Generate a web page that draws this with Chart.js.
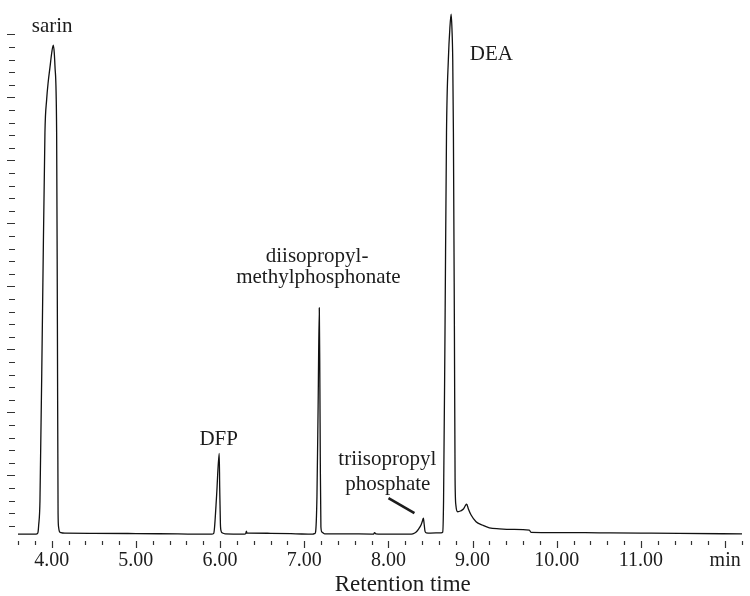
<!DOCTYPE html>
<html>
<head>
<meta charset="utf-8">
<script src="https://cdn.jsdelivr.net/npm/chart.js@4.4.1/dist/chart.umd.min.js"></script>
<style>
  html, body { margin: 0; padding: 0; background: #fff; }
</style>
</head>
<body>
<canvas id="out" width="750" height="596"></canvas>
<script>
// trace: retention time (min) / detector response
const retentionTime = [
	3.60, 3.70, 3.80, 3.825, 3.838, 3.845, 3.861, 3.893, 3.920, 3.940, 3.960, 3.980, 4.000, 4.019,
	4.030, 4.039, 4.059, 4.068, 4.076, 4.082, 4.092, 4.110, 4.160, 4.50, 5.00, 5.50,
	5.90, 5.925, 5.935, 5.960, 5.990, 5.996, 6.004, 6.012, 6.030, 6.060,
	6.29, 6.305, 6.313, 6.320, 6.34, 6.60, 6.90,
	7.10, 7.125, 7.135, 7.151, 7.165, 7.179, 7.186, 7.191, 7.198, 7.210, 7.242, 7.50,
	7.80, 7.825, 7.835, 7.850, 8.00,
	8.25, 8.29, 8.33, 8.36, 8.39, 8.405, 8.415, 8.425, 8.435, 8.45, 8.50,
	8.626, 8.645, 8.655, 8.672, 8.690, 8.712, 8.730, 8.745, 8.755, 8.764, 8.772, 8.784, 8.792, 8.802,
	8.823, 8.855, 8.891, 8.914, 8.930, 8.950, 8.982, 9.041, 9.116, 9.199, 9.318, 9.476, 9.674, 9.694,
	10.00, 10.504, 11.00, 11.453, 12.20
];
const response = [
	0.33, 0.33, 0.33, 0.36, 0.50, 1.0, 3.0, 18.9, 32.2, 34.8, 36.3, 37.4, 38.5, 39.15,
	38.6, 37.5, 32.2, 17.0, 2.0, 0.9, 0.55, 0.45, 0.41, 0.40, 0.38, 0.35,
	0.33, 0.40, 0.9, 3.5, 6.75, 4.0, 1.2, 0.6, 0.42, 0.36,
	0.34, 0.38, 0.58, 0.42, 0.42, 0.40, 0.36,
	0.33, 0.38, 0.52, 3.3, 10.5, 18.3, 12.0, 6.0, 0.92, 0.50, 0.36, 0.36,
	0.34, 0.34, 0.46, 0.36, 0.33,
	0.33, 0.36, 0.50, 0.75, 1.10, 1.40, 1.60, 1.10, 0.55, 0.44, 0.42,
	0.44, 0.50, 3.0, 16.3, 32.2, 38.0, 40.5, 41.6, 40.4, 38.0, 32.2, 16.3, 4.6, 2.6,
	2.11, 2.17, 2.33, 2.60, 2.72, 2.33, 1.85, 1.32, 1.06, 0.84, 0.76, 0.71, 0.66, 0.48,
	0.46, 0.44, 0.42, 0.40, 0.35
];

const xTickValues = [4, 5, 6, 7, 8, 9, 10, 11, 12];
const xTickLabels = ["4.00", "5.00", "6.00", "7.00", "8.00", "9.00", "10.00", "11.00", "min"];
const yTickTop = 40;
const xTitle = "Retention time";
const xTitleAt = 8.17;

// peak names, anchored in data units (centre x, text baseline y)
const peakNames = ["sarin", "DFP", "diisopropyl-", "methylphosphonate", "triisopropyl", "phosphate", "DEA"];
const nameTimes = [4.006, 5.984, 7.153, 7.168, 7.987, 7.993, 9.223];
const nameLevels = [40.18, 7.40, 21.95, 20.24, 5.80, 3.83, 37.96];
const pointerFrom = [8.001, 3.2];
const pointerTo = [8.309, 2.0];

const serif = "'Liberation Serif', 'DejaVu Serif', serif";
const ink = "#1c1c1c";

const traceDecor = {
	id: "traceDecor",
	afterDraw(chart) {
		const ctx = chart.ctx;
		const xs = chart.scales.x;
		const ys = chart.scales.y;
		const area = chart.chartArea;
		ctx.save();
		ctx.strokeStyle = "#333";
		ctx.lineWidth = 1.2;
		ctx.beginPath();
		xs.ticks.forEach(function(t) {
			const px = Math.round(xs.getPixelForValue(t.value)) + 0.5;
			const major = Math.abs(t.value - Math.round(t.value)) < 1e-6;
			ctx.moveTo(px, area.bottom);
			ctx.lineTo(px, area.bottom + (major ? 7 : 4));
		});
		for (let v = 1; v <= yTickTop; v++) {
			const py = Math.round(ys.getPixelForValue(v)) + 0.5;
			ctx.moveTo(area.left - (v % 5 === 0 ? 11 : 9), py);
			ctx.lineTo(area.left - 3, py);
		}
		ctx.stroke();

		ctx.fillStyle = ink;
		ctx.font = "21px " + serif;
		ctx.textAlign = "center";
		ctx.textBaseline = "alphabetic";
		for (let i = 0; i < peakNames.length; i++) {
			ctx.fillText(peakNames[i], xs.getPixelForValue(nameTimes[i]), ys.getPixelForValue(nameLevels[i]));
		}

		// axis title sits right of centre in the original
		ctx.font = "23px " + serif;
		ctx.fillText(xTitle, xs.getPixelForValue(xTitleAt), chart.height - 5);

		ctx.strokeStyle = ink;
		ctx.lineWidth = 2.6;
		ctx.beginPath();
		ctx.moveTo(xs.getPixelForValue(pointerFrom[0]), ys.getPixelForValue(pointerFrom[1]));
		ctx.lineTo(xs.getPixelForValue(pointerTo[0]), ys.getPixelForValue(pointerTo[1]));
		ctx.stroke();
		ctx.restore();
	}
};

const chartConfig = {
	type: "line",
	data: {
		datasets: [{
			data: retentionTime.map((t, i) => ({x: t, y: response[i]})),
			borderColor: "#111",
			borderWidth: 1.3,
			pointRadius: 0,
			fill: false,
			cubicInterpolationMode: "monotone"
		}]
	},
	options: {
		responsive: false,
		animation: false,
		devicePixelRatio: 1,
		layout: { padding: { left: 18, right: 7, top: 5, bottom: 0 } },
		plugins: { legend: { display: false }, tooltip: { enabled: false } },
		scales: {
			x: {
				type: "linear",
				min: 3.6,
				max: 12.2,
				grid: { display: false, drawTicks: false },
				border: { display: false },
				ticks: {
					stepSize: 0.2,
					autoSkip: false,
					maxRotation: 0,
					padding: 8,
					color: ink,
					font: { family: serif, size: 20 },
					callback: function(value) {
						const k = xTickValues.findIndex(v => Math.abs(v - value) < 1e-6);
						return k < 0 ? "" : xTickLabels[k];
					}
				},
				afterFit: function(scale) { scale.height = 55; }
			},
			y: {
				display: false,
				min: -0.21,
				max: 42.33
			}
		}
	},
	plugins: [traceDecor]
};

window.chart = new Chart(document.getElementById("out").getContext("2d"), chartConfig);
</script>
</body>
</html>
